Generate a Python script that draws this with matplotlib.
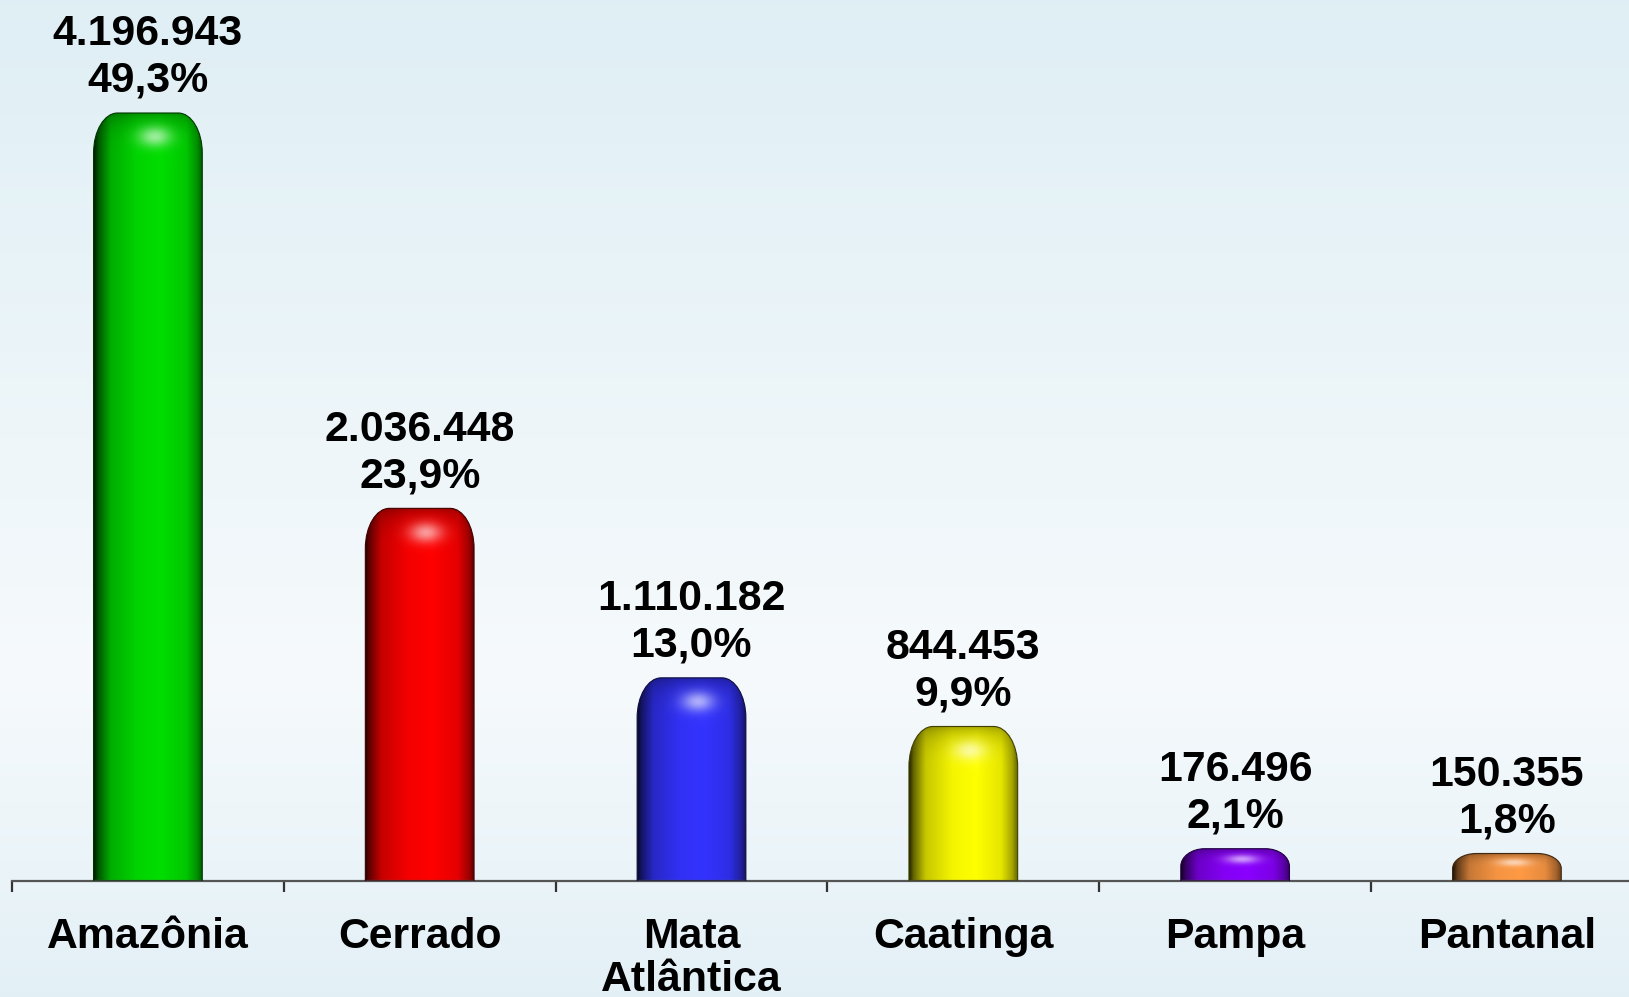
import numpy as np
import matplotlib.pyplot as plt
from matplotlib.path import Path
from matplotlib.patches import PathPatch
from matplotlib.colors import to_rgb

plt.rcParams['font.family'] = ['Liberation Sans', 'DejaVu Sans']

# data
biomas = ['Amazônia', 'Cerrado', 'Mata\nAtlântica', 'Caatinga', 'Pampa', 'Pantanal']
area = [4196943, 2036448, 1110182, 844453, 176496, 150355]
pct = ['49,3%', '23,9%', '13,0%', '9,9%', '2,1%', '1,8%']
cores = ['#00dd00', '#ff0000', '#3333ff', '#ffff00', '#8a00ff', '#ff9a45']

W, H, DPI = 1629, 997, 100
fig = plt.figure(figsize=(W / DPI, H / DPI), dpi=DPI)

# background gradient
bg = fig.add_axes([0, 0, 1, 1])
bg.set_axis_off()
t = np.linspace(0, 1, 200)
top = np.array([0.875, 0.937, 0.960])
mid = np.array([0.965, 0.980, 0.988])
bot = np.array([0.890, 0.942, 0.965])
k = np.clip(t / 0.68, 0, 1)
col = np.where(t[:, None] < 0.68,
               top + (mid - top) * k[:, None],
               mid + (bot - mid) * ((t[:, None] - 0.68) / 0.32))
bg.imshow(col[:, None, :], aspect='auto', extent=[0, 1, 1, 0])

# main axes: bottom at axis line (y=881 px), left at 12 px, cat width ~271.8 px
x_left = 12 / W
ax_bottom = (H - 881) / H
ax = fig.add_axes([x_left, ax_bottom, 6 * 271.8 / W, 1 - ax_bottom])
ax.patch.set_alpha(0)
x = np.arange(len(biomas))
ymax = 881 / 768 * area[0]
ax.set_xlim(-0.5, 5.5)
ax.set_ylim(0, ymax)

bw = 0.40
bars = ax.bar(x, area, width=bw, color='none', edgecolor='none')

px_x = 271.8          # px per x unit
px_y = 768 / area[0]  # px per y unit


def shade(base, nx, ny, hpx, ry, wpx):
    base = np.array(to_rgb(base))
    u = np.linspace(0, 1, nx)
    vpx = np.linspace(0, hpx, ny)  # distance from top in px
    # horizontal cylinder profile
    f = np.interp(u, [0, 0.04, 0.15, 0.4, 0.62, 0.85, 0.95, 1.0],
                  [0.15, 0.4, 0.78, 0.96, 1.0, 0.9, 0.65, 0.4])
    g = np.ones(ny)
    m = vpx < ry
    g[m] = 0.6 + 0.4 * np.sqrt(np.clip(1 - ((ry - vpx[m]) / ry) ** 2, 0, 1))
    img = base[None, None, :] * f[None, :, None] * g[:, None, None]
    # specular highlight
    U, V = np.meshgrid(u * wpx, vpx)
    cy = min(ry * 0.6, hpx * 0.45)
    hl = np.exp(-(((U - 0.56 * wpx) / (wpx * 0.15)) ** 2 + ((V - cy) / max(min(ry * 0.25, 10), 3)) ** 2))
    img = img + (1 - img) * hl[:, :, None] * 0.6
    return np.clip(img, 0, 1)


kk = 0.5523
for b, c in zip(bars, cores):
    x0 = b.get_x()
    x1 = x0 + b.get_width()
    h = b.get_height()
    hpx = h * px_y
    rx = 24 / px_x
    rypx = min(40, hpx * 0.55)
    ry = rypx / px_y
    verts = [(x0, 0), (x0, h - ry),
             (x0, h - ry + kk * ry), (x0 + rx - kk * rx, h), (x0 + rx, h),
             (x1 - rx, h),
             (x1 - rx + kk * rx, h), (x1, h - ry + kk * ry), (x1, h - ry),
             (x1, 0), (x0, 0)]
    codes = [Path.MOVETO, Path.LINETO,
             Path.CURVE4, Path.CURVE4, Path.CURVE4,
             Path.LINETO,
             Path.CURVE4, Path.CURVE4, Path.CURVE4,
             Path.LINETO, Path.CLOSEPOLY]
    patch = PathPatch(Path(verts, codes), facecolor='none',
                      edgecolor=np.array(to_rgb(c)) * 0.25, lw=0.8, zorder=3)
    ax.add_patch(patch)
    img = shade(c, 120, max(int(hpx), 10), hpx, rypx, bw * px_x)
    im = ax.imshow(img, extent=[x0, x1, 0, h], origin='upper',
                   aspect='auto', interpolation='bilinear', zorder=2)
    im.set_clip_path(patch)

for xi, v, p in zip(x, area, pct):
    lbl = f'{v:,}'.replace(',', '.') + '\n' + p
    ax.annotate(lbl, (xi, v), xytext=(0, 12), textcoords='offset pixels',
                ha='center', va='bottom', fontsize=30.8, fontweight='bold',
                linespacing=1.22, zorder=5)

ax.set_xlim(-0.5, 5.5)
ax.set_ylim(0, ymax)

for s in ['top', 'right', 'left']:
    ax.spines[s].set_visible(False)
ax.spines['bottom'].set_color('#555555')
ax.spines['bottom'].set_linewidth(1.6)
ax.set_yticks([])
ax.set_xticks(x)
ax.set_xticklabels(biomas, fontsize=30.8, fontweight='bold', linespacing=1.08)
ax.tick_params(axis='x', which='major', length=0, pad=26)
ax.set_xticks(np.arange(-0.5, 6, 1), minor=True)
ax.tick_params(axis='x', which='minor', length=8, width=1.6, color='#333333')

fig.savefig('out.png', dpi=DPI)
